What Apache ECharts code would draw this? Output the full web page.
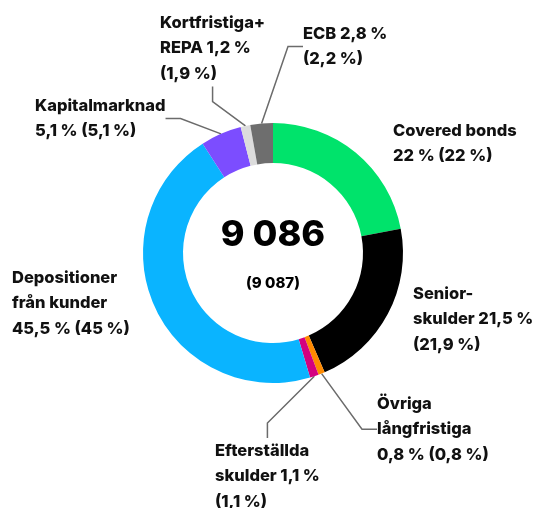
<!DOCTYPE html>
<html>
<head>
<meta charset="utf-8">
<script src="https://cdn.jsdelivr.net/npm/echarts@6/dist/echarts.min.js"></script>
<style>
  html, body { margin: 0; padding: 0; background: #fff; }
  #chart { width: 535px; height: 508px; }
</style>
</head>
<body>
<div id="chart"></div>
<script>
// data
const names = ["Covered bonds", "Senior-\nskulder", "Övriga\nlångfristiga", "Efterställda\nskulder",
  "Depositioner\nfrån kunder", "Kapitalmarknad", "Kortfristiga+\nREPA", "ECB"];
const shares = [22, 21.5, 0.8, 1.1, 45.5, 5.1, 1.2, 2.8];
const sharesPrev = [22, 21.9, 0.8, 1.1, 45, 5.1, 1.9, 2.2];
const total = "9 086";
const totalPrev = "(9 087)";

const colors = ["#00e36b", "#000000", "#ff8a00", "#d4007f", "#0ab4ff", "#7c4dff", "#dcdcdc", "#6e6e6e"];

// how each label breaks: [before value, between value and previous]
const breaks = [["\n", " "], [" ", "\n"], ["\n", " "], [" ", "\n"], ["\n", " "], ["\n", " "], [" ", "\n"], [" ", "\n"]];
// label top-left positions
const labelPos = [[393, 118], [413, 281], [377, 391], [215, 438], [12, 265], [35, 93], [160, 10], [303, 21]];
const showLine = [false, false, true, true, false, true, true, true];

function pct(v) {
  return String(v).replace(".", ",") + " %";
}

const chart = echarts.init(document.getElementById("chart"));

chart.setOption({
  animation: false,
  textStyle: { fontFamily: "Inter" },
  graphic: [
    {
      type: "text",
      x: 273,
      y: 235,
      style: {
        text: total,
        font: "800 36px Inter",
        fill: "#000",
        textAlign: "center",
        textVerticalAlign: "middle"
      }
    },
    {
      type: "text",
      x: 273,
      y: 283,
      style: {
        text: totalPrev,
        font: "800 15px Inter",
        fill: "#000",
        textAlign: "center",
        textVerticalAlign: "middle"
      }
    }
  ],
  series: [
    {
      type: "pie",
      center: [273, 253],
      radius: [90, 130],
      startAngle: 90,
      clockwise: true,
      avoidLabelOverlap: false,
      color: colors,
      data: names.map((n, i) => ({
        name: n,
        value: shares[i],
        labelLine: { show: showLine[i] }
      })),
      label: {
        show: true,
        color: "#111",
        fontFamily: "Inter",
        fontWeight: 800,
        fontSize: 16.5,
        lineHeight: 25.5,
        formatter: (p) => {
          const i = p.dataIndex;
          return names[i] + breaks[i][0] + pct(shares[i]) + breaks[i][1] + "(" + pct(sharesPrev[i]) + ")";
        }
      },
      labelLine: {
        lineStyle: { color: "#6b6b6b", width: 1.5 },
        length: 20,
        length2: 15
      },
      labelLayout: (params) => {
        const pos = labelPos[params.dataIndex];
        return { x: pos[0], y: pos[1], align: "left", verticalAlign: "top" };
      },
      emphasis: { disabled: true }
    }
  ]
});
</script>
</body>
</html>
